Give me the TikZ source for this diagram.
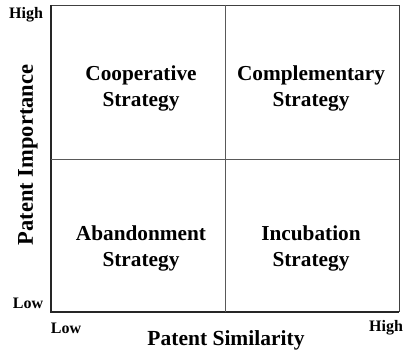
\documentclass[tikz,border=0pt]{standalone}
\usepackage{fontspec}
\setmainfont{Liberation Serif}
\begin{document}
\begin{tikzpicture}[x=1pt,y=-1pt,
  quad/.style={font=\fontsize{21.3}{26}\selectfont\bfseries, align=center, inner sep=0pt},
  tick/.style={font=\fontsize{16}{18}\selectfont\bfseries, inner sep=0pt},
  axis/.style={font=\fontsize{21.5}{26}\selectfont\bfseries, inner sep=0pt},
  axisv/.style={font=\fontsize{22.5}{26}\selectfont\bfseries, inner sep=0pt},
  edge/.style={draw=black!75, line width=0.8pt},
  axisline/.style={draw=black!85, line width=1.4pt},
  divider/.style={draw=black!65, line width=0.7pt}]
\useasboundingbox (0,0) rectangle (404,352);
\coordinate (tl) at (51,5);
\coordinate (tr) at (399,5);
\coordinate (bl) at (51,312);
\coordinate (br) at (399,312);
\coordinate (mt) at (225,5);
\coordinate (mb) at (225,312);
\coordinate (ml) at (51,159);
\coordinate (mr) at (399,159);
\draw[edge] (tl) -- (tr) -- (br);
\draw[axisline] (tl) -- (bl) -- (br);
\draw[divider] (mt) -- (mb);
\draw[divider] (ml) -- (mr);
\node[quad] (coop) at (141,88) {Cooperative\\Strategy};
\node[quad] (comp) at (311,88) {Complementary\\Strategy};
\node[quad] (aban) at (141,248) {Abandonment\\Strategy};
\node[quad] (incu) at (311,248) {Incubation\\Strategy};
\node[tick] (yhigh) at (26,15) {High};
\node[tick] (ylow) at (28,303) {Low};
\node[tick] (xlow) at (66,328) {Low};
\node[tick] (xhigh) at (386,328) {High};
\node[axis] (xlab) at (226,340) {Patent Similarity};
\node[axisv, rotate=90] (ylab) at (28,155) {Patent Importance};
\end{tikzpicture}
\end{document}
